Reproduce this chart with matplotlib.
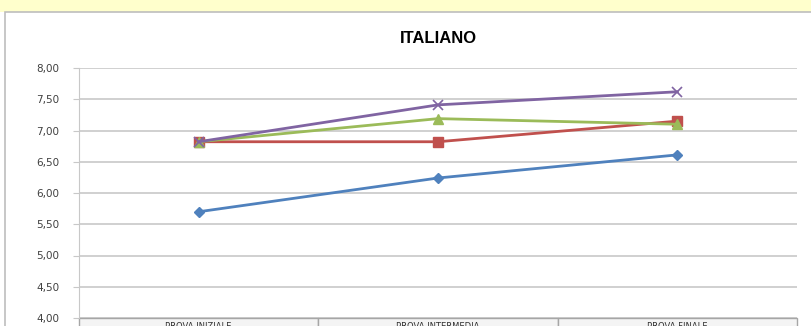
import matplotlib.pyplot as plt
from matplotlib.patches import Rectangle
from matplotlib.ticker import FuncFormatter, MultipleLocator
import matplotlib.transforms as mtransforms

categories = ['PROVA INIZIALE', 'PROVA INTERMEDIA', 'PROVA FINALE']
serie_1 = [5.70, 6.24, 6.61]
serie_2 = [6.82, 6.82, 7.15]
serie_3 = [6.82, 7.19, 7.10]
serie_4 = [6.82, 7.41, 7.62]

W, H = 811, 326
fig = plt.figure(figsize=(W / 100, H / 100), dpi=100)
fig.patch.set_facecolor('white')

# yellow strip above the chart frame and the frame itself
fig.patches.append(Rectangle((0, 1 - 12 / H), 1, 12 / H, transform=fig.transFigure,
                             facecolor='#ffffcc', edgecolor='none', zorder=-2))
fig.patches.append(Rectangle((5 / W, -0.05), 1.0, 1 - 12 / H + 0.05, transform=fig.transFigure,
                             facecolor='white', edgecolor='#bdbdbd', lw=1.2, zorder=-1))

ax = fig.add_axes([79 / W, 1 - 318 / H, (797 - 79) / W, (318 - 68) / H])
ax.set_zorder(2)
ax.patch.set_alpha(0)
x = list(range(len(categories)))

ax.plot(x, serie_1, color='#4f81bd', lw=2, marker='D', ms=5, zorder=3)
ax.plot(x, serie_2, color='#c0504d', lw=2, marker='s', ms=7, zorder=3)
ax.plot(x, serie_3, color='#9bbb59', lw=2, marker='^', ms=7, zorder=3)
ax.plot(x, serie_4, color='#8064a2', lw=2, marker='x', ms=7, mew=1.2, zorder=4)

ax.set_xlim(-0.5, 2.5)
ax.set_ylim(4, 8)
ax.yaxis.set_major_locator(MultipleLocator(0.5))
ax.yaxis.set_major_formatter(FuncFormatter(lambda v, p: f'{v:.2f}'.replace('.', ',')))
ax.grid(axis='y', color='#c8c8c8', lw=1.2)
ax.set_axisbelow(True)
ax.set_xticks([])
for s in ['top', 'right', 'bottom']:
    ax.spines[s].set_visible(False)
ax.spines['left'].set_color('#c8c8c8')
ax.tick_params(axis='y', length=4, color='#c8c8c8', labelsize=7.5, labelcolor='#404040', pad=10)

ax.set_title('ITALIANO', fontsize=12, fontweight='bold', family='Liberation Sans', pad=18)

# category table under the plot
trans = mtransforms.blended_transform_factory(ax.transData, ax.transAxes)
for i, name in enumerate(categories):
    ax.add_patch(Rectangle((i - 0.5, -0.2), 1, 0.2, transform=trans, clip_on=False,
                           facecolor='#f4f4f4', edgecolor='#a6a6a6', lw=1))
    ax.text(i, -0.016, name, transform=trans, ha='center', va='top', fontsize=6,
            color='#303030', clip_on=False)

fig.savefig('out.png', dpi=100)
